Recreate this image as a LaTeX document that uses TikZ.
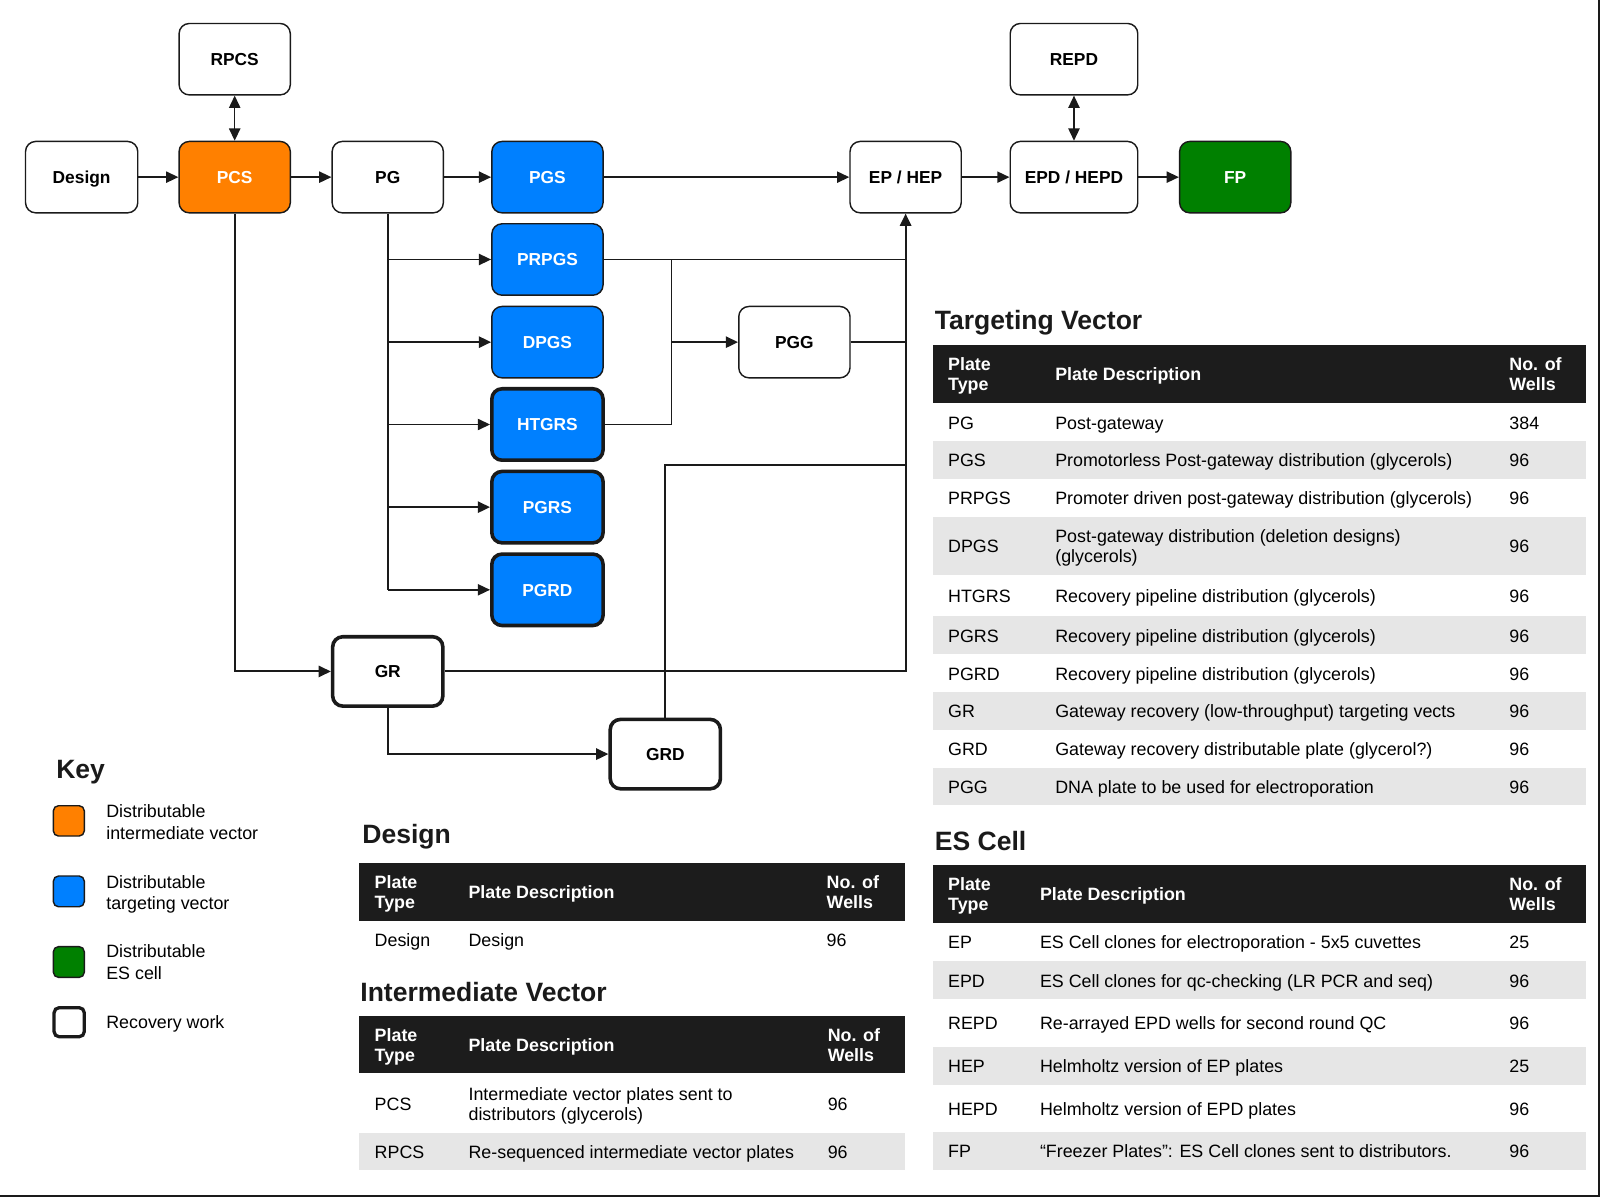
\documentclass[tikz,border=0pt]{standalone}
\usepackage{fontspec}
\setmainfont{Liberation Sans}
\usetikzlibrary{arrows.meta}

\definecolor{ink}{HTML}{1A1A1A}
\definecolor{orangefill}{HTML}{FF8000}
\definecolor{bluefill}{HTML}{0080FF}
\definecolor{greenfill}{HTML}{008000}
\definecolor{headfill}{HTML}{1C1C1C}
\definecolor{rowgray}{HTML}{E6E6E6}

\newcommand\boxfont{\fontsize{17}{19}\selectfont\bfseries}
\newcommand\bodyfont{\fontsize{17.5}{19.5}\selectfont}
\newcommand\titlefont{\fontsize{26}{30}\selectfont\bfseries}

% table cells: text placed by its baseline, named automatically
\newcounter{cellno}
\newcommand\tcell[4][]{\stepcounter{cellno}\edef\cellname{cell\arabic{cellno}}%
  \node[cell,#1] (\cellname) at (#2,#3) {#4};}
\newcommand\hcell[3]{\tcell[text=white,font=\bodyfont\bfseries]{#1}{#2}{#3}}

\tikzset{
  box/.style={draw=ink, line width=1.4pt, rounded corners=10pt, fill=white,
    minimum width=109pt, minimum height=70pt, inner sep=0pt,
    font=\boxfont, text height=12.2pt, text depth=0pt},
  heavy/.style={line width=3.5pt},
  flow/.style={draw=ink, line width=1.5pt},
  bold flow/.style={draw=ink, line width=2pt},
  cell/.style={anchor=base west, inner sep=0pt, font=\bodyfont, text=black},
  title/.style={anchor=base west, inner sep=0pt, font=\titlefont, text=ink},
  swatch/.style={draw=ink, line width=1.4pt, rounded corners=5pt},
  >={Triangle[length=12pt,width=11pt]},
}

\begin{document}
\begin{tikzpicture}[x=1pt,y=-1pt]
\useasboundingbox (0,0) rectangle (1568,1173);
\fill[white] (0,0) rectangle (1568,1173);
\draw[line width=2pt, ink] (1567,0) -- (1567,1172) -- (0,1172);

% ---------- process boxes ----------
\node[box] (RPCS) at (230,58) {RPCS};
\node[box, minimum width=125pt] (REPD) at (1052.5,58) {REPD};
\node[box, minimum width=110pt] (Design) at (80,173.6) {Design};
\node[box, fill=orangefill, text=white] (PCS) at (230,173.6) {PCS};
\node[box] (PG) at (380,173.6) {PG};
\node[box, fill=bluefill, text=white] (PGS) at (536.5,173.6) {PGS};
\node[box] (EPHEP) at (887.5,173.6) {EP / HEP};
\node[box, minimum width=125pt] (EPD) at (1052.5,173.6) {EPD / HEPD};
\node[box, fill=greenfill, text=white] (FP) at (1210.5,173.6) {FP};
\node[box, fill=bluefill, text=white] (PRPGS) at (536.5,254.3) {PRPGS};
\node[box, fill=bluefill, text=white] (DPGS) at (536.5,335.3) {DPGS};
\node[box, fill=bluefill, text=white, heavy] (HTGRS) at (536.5,416) {HTGRS};
\node[box, fill=bluefill, text=white, heavy] (PGRS) at (536.5,497) {PGRS};
\node[box, fill=bluefill, text=white, heavy] (PGRD) at (536.5,578) {PGRD};
\node[box] (PGG) at (778.5,335.3) {PGG};
\node[box, heavy, minimum width=108pt, minimum height=68pt] (GR) at (380,658) {GR};
\node[box, heavy, minimum width=108pt, minimum height=68pt] (GRD) at (652,739) {GRD};

% ---------- connectors ----------
\draw[flow,->] (Design) -- (PCS);
\draw[flow,<->] (RPCS) -- (PCS);
\draw[flow,->] (PCS) -- (PG);
\draw[flow,->] (PG) -- (PGS);
\draw[flow,->] (PGS) -- (EPHEP);
\draw[flow,->] (EPHEP) -- (EPD);
\draw[flow,->] (EPD) -- (FP);
\draw[flow,<->] (REPD) -- (EPD);

% PG feeds the distribution plates
\draw[flow] (PG.south) -- (PG.south |- PGRD.west);
\foreach \t in {PRPGS,HTGRS,PGRD}
  \draw[flow,->] (PG.south |- \t.west) -- (\t.west);
\foreach \t in {DPGS,PGRS}
  \draw[bold flow,->] (PG.south |- \t.west) -- (\t.west);

% recovery branch
\draw[bold flow,->] (PCS.south) |- (GR.west);
\draw[bold flow,->] (GR.east) -| (EPHEP.south);
\draw[bold flow,->] (GR.south) |- (GRD.west);
\coordinate (grdturn) at (652,456);
\draw[bold flow] (GRD.north) -- (grdturn) -- (grdturn -| EPHEP.south);

% glycerol plates to PGG and electroporation
\draw[flow] (PRPGS.east) -- (PRPGS.east -| EPHEP.south);
\coordinate (split) at (658,254.3);
\draw[flow] (HTGRS.east) -| (split);
\draw[bold flow,->] (split |- PGG.west) -- (PGG.west);
\draw[bold flow] (PGG.east) -- (PGG.east -| EPHEP.south);

% ---------- key ----------
\node[title] (keytitle) at (55,762.8) {Key};
\draw[swatch, fill=orangefill] (52.3,789.6) rectangle (82.6,819.3);
\draw[swatch, fill=bluefill] (52.3,858.5) rectangle (82.6,888.6);
\draw[swatch, fill=greenfill] (52.3,927.7) rectangle (82.6,957.8);
\draw[swatch, fill=white, line width=3.2pt] (53,987.5) rectangle (82.6,1016);
\tcell{104}{801.3}{Distributable}
\tcell{104}{822.3}{intermediate vector}
\tcell{104}{870.3}{Distributable}
\tcell{104}{891.3}{targeting vector}
\tcell{104}{938.3}{Distributable}
\tcell{104}{960.3}{ES cell}
\tcell{104}{1008.3}{Recovery work}

% ---------- Targeting Vector table ----------
\node[title] (tvtitle) at (916,322.8) {Targeting Vector};
\fill[headfill] (914,338) rectangle (1554,394.6);
\fill[rowgray] (914,432) rectangle (1554,469);
\fill[rowgray] (914,506.6) rectangle (1554,563.5);
\fill[rowgray] (914,604) rectangle (1554,640.6);
\fill[rowgray] (914,678) rectangle (1554,715);
\fill[rowgray] (914,752.7) rectangle (1554,788.6);
\hcell{929}{363.3}{Plate}
\hcell{929}{382.8}{Type}
\hcell{1034}{373}{Plate Description}
\hcell{1479}{363.3}{No. of}
\hcell{1479}{382.8}{Wells}
\tcell{929}{421.3}{PG}     \tcell{1034}{421.3}{Post-gateway} \tcell{1479}{421.3}{384}
\tcell{929}{457.3}{PGS}    \tcell{1034}{457.3}{Promotorless Post-gateway distribution (glycerols)} \tcell{1479}{457.3}{96}
\tcell{929}{494.3}{PRPGS}  \tcell{1034}{494.3}{Promoter driven post-gateway distribution (glycerols)} \tcell{1479}{494.3}{96}
\tcell{929}{541.3}{DPGS}   \tcell{1034}{531.8}{Post-gateway distribution (deletion designs)}
\tcell{1034}{551.3}{(glycerols)} \tcell{1479}{541.3}{96}
\tcell{929}{590.3}{HTGRS}  \tcell{1034}{590.3}{Recovery pipeline distribution (glycerols)} \tcell{1479}{590.3}{96}
\tcell{929}{629.3}{PGRS}   \tcell{1034}{629.3}{Recovery pipeline distribution (glycerols)} \tcell{1479}{629.3}{96}
\tcell{929}{667.3}{PGRD}   \tcell{1034}{667.3}{Recovery pipeline distribution (glycerols)} \tcell{1479}{667.3}{96}
\tcell{929}{703.3}{GR}     \tcell{1034}{703.3}{Gateway recovery (low-throughput) targeting vects} \tcell{1479}{703.3}{96}
\tcell{929}{740.3}{GRD}    \tcell{1034}{740.3}{Gateway recovery distributable plate (glycerol?)} \tcell{1479}{740.3}{96}
\tcell{929}{777.3}{PGG}    \tcell{1034}{777.3}{DNA plate to be used for electroporation} \tcell{1479}{777.3}{96}

% ---------- ES Cell table ----------
\node[title] (estitle) at (916,833.6) {ES Cell};
\fill[headfill] (914,848) rectangle (1554,905);
\fill[rowgray] (914,942) rectangle (1554,979);
\fill[rowgray] (914,1025.8) rectangle (1554,1063);
\fill[rowgray] (914,1109) rectangle (1554,1146.6);
\hcell{929}{873}{Plate}
\hcell{929}{892.5}{Type}
\hcell{1019}{882.8}{Plate Description}
\hcell{1479}{873}{No. of}
\hcell{1479}{892.5}{Wells}
\tcell{929}{929.3}{EP}    \tcell{1019}{929.3}{ES Cell clones for electroporation - 5x5 cuvettes} \tcell{1479}{929.3}{25}
\tcell{929}{967.3}{EPD}   \tcell{1019}{967.3}{ES Cell clones for qc-checking (LR PCR and seq)} \tcell{1479}{967.3}{96}
\tcell{929}{1009.3}{REPD} \tcell{1019}{1009.3}{Re-arrayed EPD wells for second round QC} \tcell{1479}{1009.3}{96}
\tcell{929}{1051.3}{HEP}  \tcell{1019}{1051.3}{Helmholtz version of EP plates} \tcell{1479}{1051.3}{25}
\tcell{929}{1093.3}{HEPD} \tcell{1019}{1093.3}{Helmholtz version of EPD plates} \tcell{1479}{1093.3}{96}
\tcell{929}{1134.3}{FP}   \tcell{1019}{1134.3}{“Freezer Plates”: ES Cell clones sent to distributors.} \tcell{1479}{1134.3}{96}

% ---------- Design table ----------
\node[title] (dtitle) at (355,826.5) {Design};
\fill[headfill] (352,846) rectangle (887,902.6);
\hcell{367}{870.8}{Plate}
\hcell{367}{890.3}{Type}
\hcell{459}{880.6}{Plate Description}
\hcell{810}{870.8}{No. of}
\hcell{810}{890.3}{Wells}
\tcell{367}{927.8}{Design} \tcell{459}{927.8}{Design} \tcell{810}{927.8}{96}

% ---------- Intermediate Vector table ----------
\node[title] (ivtitle) at (353,981.7) {Intermediate Vector};
\fill[headfill] (352,995.7) rectangle (887,1052);
\fill[rowgray] (352,1110.6) rectangle (887,1146.6);
\hcell{367}{1020.5}{Plate}
\hcell{367}{1040}{Type}
\hcell{459}{1030.3}{Plate Description}
\hcell{811}{1020.5}{No. of}
\hcell{811}{1040}{Wells}
\tcell{367}{1087.8}{PCS}  \tcell{459}{1078.3}{Intermediate vector plates sent to}
\tcell{459}{1097.8}{distributors (glycerols)} \tcell{811}{1087.8}{96}
\tcell{367}{1135.3}{RPCS} \tcell{459}{1135.3}{Re-sequenced intermediate vector plates} \tcell{811}{1135.3}{96}
\end{tikzpicture}
\end{document}
